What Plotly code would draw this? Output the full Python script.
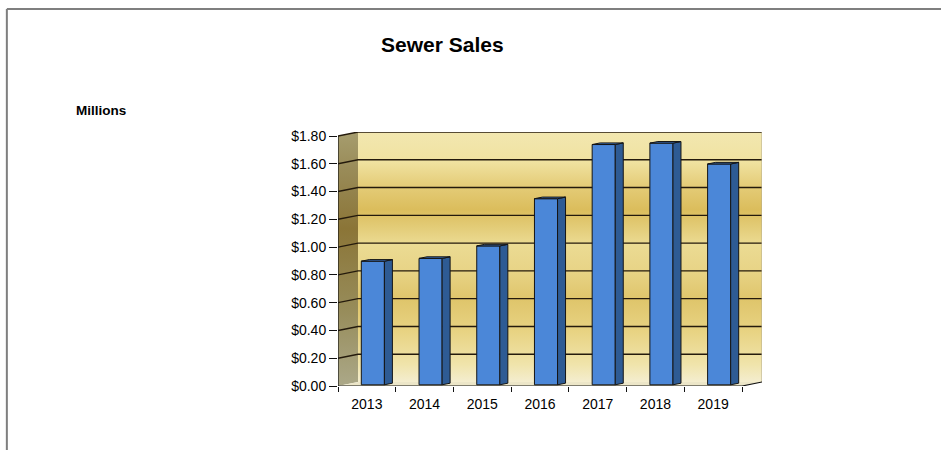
import plotly.graph_objects as go

# ---- data ----
years = ["2013", "2014", "2015", "2016", "2017", "2018", "2019"]
sales = [0.89, 0.91, 1.00, 1.34, 1.73, 1.74, 1.59]          # $ millions
y_ticks = [0.0, 0.2, 0.4, 0.6, 0.8, 1.0, 1.2, 1.4, 1.6, 1.8]
y_tick_labels = ["$0.00", "$0.20", "$0.40", "$0.60", "$0.80",
                 "$1.00", "$1.20", "$1.40", "$1.60", "$1.80"]

# ---- oblique 3-D projection settings (axis units) ----
DX = 0.3466          # horizontal shift of the back wall
DY = 0.0288          # vertical shift of the back wall
WALL_TOP = 1.8
X0, X1 = -0.5, len(years) - 0.5
BAR_W = 0.40
FRONT = 0.30         # depth fraction of the bar front face
DEPTH = 0.40         # depth fraction occupied by a bar

FONT = "Liberation Sans, Arial, sans-serif"
LINE = "#241a0c"

fig = go.Figure()

# walls and floor (base subplot, drawn beneath the bars)
fig.add_trace(go.Scatter(
    x=[X0, X0 + DX, X0 + DX, X0, X0],
    y=[0, DY, WALL_TOP + DY, WALL_TOP, 0],
    mode="lines", line=dict(width=0), fill="toself",
    fillgradient=dict(type="vertical", colorscale=[
        [0.0, "#aba888"], [0.3, "#978c5a"], [0.62, "#8b7537"],
        [0.85, "#998b58"], [1.0, "#a69d6e"]]),
    hoverinfo="skip"))
fig.add_trace(go.Scatter(
    x=[X0 + DX, X1 + DX, X1 + DX, X0 + DX, X0 + DX],
    y=[DY, DY, WALL_TOP + DY, WALL_TOP + DY, DY],
    mode="lines", line=dict(width=0), fill="toself",
    fillgradient=dict(type="vertical", colorscale=[
        [0.0, "#f4edcf"], [0.07, "#f0e4ab"], [0.2, "#e8d383"],
        [0.33, "#dfc56b"], [0.45, "#e8d487"], [0.55, "#ebdb93"],
        [0.69, "#dbbd5c"], [0.79, "#e5cd7a"], [0.88, "#f0e2a0"],
        [1.0, "#f2e7b0"]]),
    hoverinfo="skip"))
fig.add_trace(go.Scatter(
    x=[X0, X1, X1 + DX, X0 + DX, X0],
    y=[0, 0, DY, DY, 0],
    mode="lines", line=dict(width=0), fill="toself", fillcolor="#ece6c8",
    hoverinfo="skip"))

# gridlines on the side wall and back wall
gx, gy = [], []
for v in y_ticks[1:]:
    gx += [X0, X0 + DX, X1 + DX, None]
    gy += [v, v + DY, v + DY, None]
fig.add_trace(go.Scatter(x=gx, y=gy, mode="lines",
                         line=dict(color=LINE, width=1.4), hoverinfo="skip"))

# right edge of the back wall
fig.add_trace(go.Scatter(x=[X1 + DX, X1 + DX], y=[DY, WALL_TOP + DY], mode="lines",
                         line=dict(color="#b5ad8e", width=1), hoverinfo="skip"))

# axis lines: value axis, category axis and floor edge
fig.add_trace(go.Scatter(
    x=[X0, X0, None, X0, X1, X1 + DX],
    y=[WALL_TOP, 0, None, 0, 0, DY],
    mode="lines", line=dict(color="#111111", width=1.2), hoverinfo="skip"))

# bars (overlay subplot so they sit above the walls)
xf = [i + FRONT * DX for i in range(len(years))]
base = FRONT * DY
fig.add_trace(go.Bar(
    x=xf, y=sales, base=base, width=BAR_W,
    marker=dict(color="#4b87d8", line=dict(color="#151515", width=1)),
    xaxis="x2", yaxis="y2", hoverinfo="skip"))

# side and top faces of the bars
sx, sy, tx, ty = [], [], [], []
ddx, ddy = DEPTH * DX, DEPTH * DY
for xc, v in zip(xf, sales):
    xl, xr = xc - BAR_W / 2, xc + BAR_W / 2
    top = base + v
    sx += [xr, xr + ddx, xr + ddx, xr, xr, None]
    sy += [base, base + ddy, top + ddy, top, base, None]
    tx += [xl, xl + ddx, xr + ddx, xr, xl, None]
    ty += [top, top + ddy, top + ddy, top, top, None]
fig.add_trace(go.Scatter(x=sx, y=sy, mode="lines", fill="toself",
                         fillcolor="#2e5b94", line=dict(color="#151515", width=1),
                         xaxis="x2", yaxis="y2", hoverinfo="skip"))
fig.add_trace(go.Scatter(x=tx, y=ty, mode="lines", fill="toself",
                         fillcolor="#3a6cb2", line=dict(color="#151515", width=1),
                         xaxis="x2", yaxis="y2", hoverinfo="skip"))

x_range = [X0, X1 + DX]
y_range = [0, WALL_TOP + DY]

fig.update_layout(
    width=941, height=450,
    margin=dict(l=338, r=179, t=132, b=64),
    paper_bgcolor="white", plot_bgcolor="white",
    showlegend=False,
    font=dict(family=FONT, size=14, color="#000000"),
    xaxis=dict(
        range=x_range, showgrid=False, zeroline=False, showline=False,
        tickmode="array", tickvals=list(range(len(years))), ticktext=years,
        ticks="", tickfont=dict(size=14), ticklabelstandoff=8,
        minor=dict(ticks="outside", ticklen=5, tickwidth=1, tickcolor="#111111",
                   tickmode="linear", tick0=X0, dtick=1, showgrid=False),
    ),
    yaxis=dict(
        range=y_range, showgrid=False, zeroline=False, showline=False,
        tickmode="array", tickvals=y_ticks, ticktext=y_tick_labels,
        ticks="outside", ticklen=8, tickwidth=1, tickcolor="#111111",
        tickfont=dict(size=14),
    ),
    xaxis2=dict(range=x_range, overlaying="x", anchor="y2", visible=False),
    yaxis2=dict(range=y_range, overlaying="y", anchor="x2", visible=False),
    annotations=[
        dict(text="<b>Sewer Sales</b>", xref="paper", yref="paper",
             x=0.2476, y=1.3445, xanchor="center", yanchor="middle",
             showarrow=False, font=dict(size=21, family=FONT)),
        dict(text="<b>Millions</b>", xref="paper", yref="paper",
             x=-0.559, y=1.0866, xanchor="center", yanchor="middle",
             showarrow=False, font=dict(size=13.5, family=FONT)),
    ],
    shapes=[
        # outer frame (top and left edges)
        dict(type="line", xref="paper", yref="paper",
             x0=-0.781, x1=1.43, y0=1.4843, y1=1.4843,
             line=dict(color="#7f7f7f", width=2)),
        dict(type="line", xref="paper", yref="paper",
             x0=-0.781, x1=-0.781, y0=1.4843, y1=-0.26,
             line=dict(color="#7f7f7f", width=2)),
    ],
)

fig.write_html("out.html")
